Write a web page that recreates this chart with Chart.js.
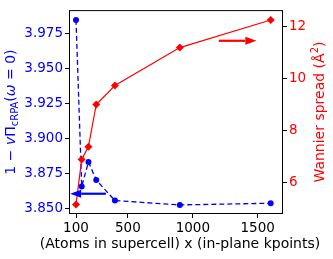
<!DOCTYPE html>
<html>
<head>
<meta charset="utf-8">
<script src="https://cdn.jsdelivr.net/npm/chart.js@4.4.1/dist/chart.umd.min.js"></script>
<style>
  html, body { margin: 0; padding: 0; background: #fff; }
  #wrap { width: 333px; height: 259px; }
</style>
</head>
<body>
<div id="wrap"><canvas id="chart" width="333" height="259"></canvas></div>
<script>
// supercell size (atoms x in-plane kpoints)
const sizes = [100, 144, 196, 256, 400, 900, 1600];
// 1 - vPi_cRPA(w=0), left axis
const screening = [3.9848, 3.8657, 3.8832, 3.8703, 3.8556, 3.8525, 3.8537];
// Wannier spread in A^2, right axis
const spread = [5.16, 6.89, 7.38, 9.0, 9.73, 11.19, 12.25];

const xTicks = [100, 500, 1000, 1500];
const leftTicks = [3.850, 3.875, 3.900, 3.925, 3.950, 3.975];
const rightTicks = [6, 8, 10, 12];

// arrows: [x tail, x head, y]
const blueArrow = [330, 55, 3.8605];
const redArrow = [1200, 1490, 11.45];

const FONT = 'DejaVu Sans';
const TICK_SIZE = 13.5;
const TITLE_SIZE = 14;
Chart.defaults.font.family = FONT;
Chart.defaults.font.size = TICK_SIZE;

function toPoints(ys) {
    return sizes.map((x, i) => ({ x: x, y: ys[i] }));
}

function drawArrow(ctx, x0, x1, y, color) {
    const dir = x1 > x0 ? 1 : -1;
    const headLen = 11;
    const headHalf = 4;
    ctx.save();
    ctx.strokeStyle = color;
    ctx.fillStyle = color;
    ctx.lineWidth = 2.2;
    ctx.beginPath();
    ctx.moveTo(x0, y);
    ctx.lineTo(x1 - dir * headLen, y);
    ctx.stroke();
    ctx.beginPath();
    ctx.moveTo(x1, y);
    ctx.lineTo(x1 - dir * headLen, y - headHalf);
    ctx.lineTo(x1 - dir * headLen, y + headHalf);
    ctx.closePath();
    ctx.fill();
    ctx.restore();
}

// draws a list of [text, font, dy] pieces along a baseline, centred, rotated
function drawPieces(ctx, pieces, cx, cy, color) {
    ctx.save();
    ctx.translate(cx, cy);
    ctx.rotate(-Math.PI / 2);
    ctx.fillStyle = color;
    ctx.textBaseline = 'alphabetic';
    ctx.textAlign = 'left';
    let total = 0;
    pieces.forEach(p => { ctx.font = p[1]; total += ctx.measureText(p[0]).width; });
    let x = -total / 2;
    pieces.forEach(p => {
        ctx.font = p[1];
        ctx.fillText(p[0], x, p[2]);
        x += ctx.measureText(p[0]).width;
    });
    ctx.restore();
}

const extras = {
    id: 'extras',
    afterDatasetsDraw(chart) {
        const ctx = chart.ctx;
        const a = chart.chartArea;
        const xs = chart.scales.x, yl = chart.scales.y, yr = chart.scales.y1;

        drawArrow(ctx, xs.getPixelForValue(blueArrow[0]), xs.getPixelForValue(blueArrow[1]),
            yl.getPixelForValue(blueArrow[2]), 'blue');
        drawArrow(ctx, xs.getPixelForValue(redArrow[0]), xs.getPixelForValue(redArrow[1]),
            yr.getPixelForValue(redArrow[2]), 'red');

        // frame
        ctx.save();
        ctx.strokeStyle = '#000';
        ctx.lineWidth = 1;
        ctx.strokeRect(a.left + 0.5, a.top + 0.5, a.right - a.left - 1, a.bottom - a.top - 1);
        ctx.restore();
    },
    afterDraw(chart) {
        const ctx = chart.ctx;
        const a = chart.chartArea;
        const cy = (a.top + a.bottom) / 2;
        const n = TITLE_SIZE + 'px "' + FONT + '"';
        const it = 'oblique ' + TITLE_SIZE + 'px "' + FONT + '"';
        const sm = '10px "' + FONT + '"';

        drawPieces(ctx, [
            ['1 \u2212 ', n, 0],
            ['v', it, 0],
            ['\u03A0', n, 0],
            ['cRPA', sm, 3],
            ['(', n, 0],
            ['\u03C9', it, 0],
            [' = 0)', n, 0]
        ], 15, cy, 'blue');

        drawPieces(ctx, [
            ['Wannier spread (\u00C5', n, 0],
            ['2', sm, -6],
            [')', n, 0]
        ], 324, cy, 'red');

        ctx.save();
        ctx.font = n;
        ctx.fillStyle = '#000';
        ctx.textAlign = 'center';
        ctx.textBaseline = 'alphabetic';
        ctx.fillText('(Atoms in supercell) x (in-plane kpoints)', (a.left + a.right) / 2 + 4, 248);
        ctx.restore();
    }
};

new Chart(document.getElementById('chart'), {
    type: 'line',
    data: {
        datasets: [
            {
                label: 'spread',
                data: toPoints(spread),
                yAxisID: 'y1',
                borderColor: 'red',
                backgroundColor: 'red',
                borderWidth: 1.2,
                pointStyle: 'rectRot',
                pointRadius: 4,
                pointBorderWidth: 0,
                order: 0
            },
            {
                label: 'screening',
                data: toPoints(screening),
                yAxisID: 'y',
                borderColor: 'blue',
                backgroundColor: 'blue',
                borderWidth: 1.3,
                borderDash: [5, 3],
                pointStyle: 'circle',
                pointRadius: 3,
                pointBorderWidth: 0,
                order: 1
            }
        ]
    },
    options: {
        responsive: false,
        animation: false,
        events: [],
        layout: { padding: { top: 5, left: 0, right: 0, bottom: 0 } },
        plugins: { legend: { display: false }, tooltip: { enabled: false } },
        scales: {
            x: {
                type: 'linear',
                min: 46,
                max: 1695,
                afterBuildTicks: s => { s.ticks = xTicks.map(v => ({ value: v })); },
                afterFit: s => { s.height = 45; },
                grid: { drawOnChartArea: false, color: '#000', tickLength: 4 },
                border: { display: false },
                ticks: { color: '#000', padding: 2, maxRotation: 0, callback: v => String(v) }
            },
            y: {
                position: 'left',
                min: 3.846,
                max: 3.9918,
                afterBuildTicks: s => { s.ticks = leftTicks.map(v => ({ value: v })); },
                afterFit: s => { s.width = 69; },
                grid: { drawOnChartArea: false, color: '#000', tickLength: 4 },
                border: { display: false },
                ticks: { color: 'blue', padding: 2, callback: v => v.toFixed(3) }
            },
            y1: {
                position: 'right',
                min: 4.79,
                max: 12.63,
                afterBuildTicks: s => { s.ticks = rightTicks.map(v => ({ value: v })); },
                afterFit: s => { s.width = 50; },
                grid: { drawOnChartArea: false, color: '#000', tickLength: 4 },
                border: { display: false },
                ticks: { color: 'red', padding: 2, callback: v => String(v) }
            }
        }
    },
    plugins: [extras]
});
</script>
</body>
</html>
